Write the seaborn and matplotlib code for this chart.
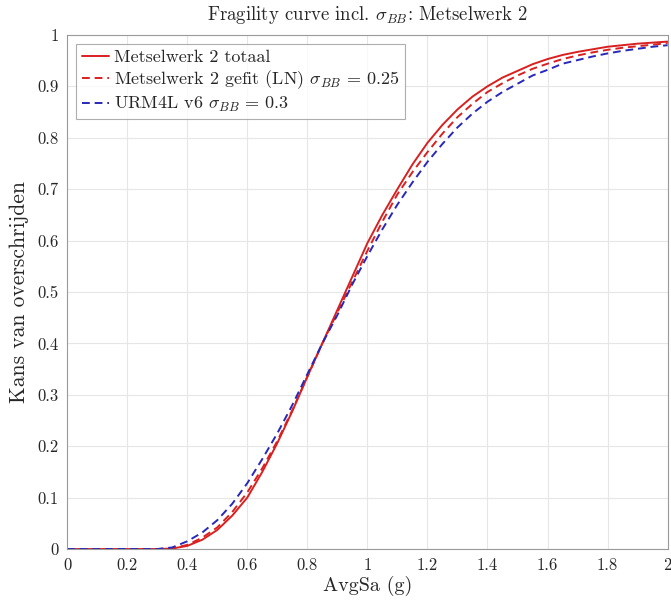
import numpy as np
import pandas as pd
import seaborn as sns
import matplotlib.pyplot as plt
from matplotlib.ticker import FuncFormatter

# waarden
avgsa = [0.0, 0.1, 0.2, 0.3, 0.35, 0.4, 0.45, 0.5, 0.55, 0.6, 0.65, 0.7, 0.75, 0.8, 0.85,
         0.9, 0.95, 1.0, 1.05, 1.1, 1.15, 1.2, 1.25, 1.3, 1.35, 1.4, 1.45, 1.5, 1.55, 1.6,
         1.65, 1.7, 1.75, 1.8, 1.85, 1.9, 1.95, 2.0]
totaal = [0.0, 0.0, 0.0, 0.0, 0.001, 0.006, 0.018, 0.037, 0.065, 0.10, 0.15, 0.206, 0.268, 0.335,
          0.40, 0.465, 0.53, 0.595, 0.65, 0.70, 0.748, 0.79, 0.825, 0.855, 0.88, 0.90, 0.917,
          0.93, 0.943, 0.953, 0.961, 0.967, 0.972, 0.977, 0.980, 0.983, 0.985, 0.987]
gefit = [0.0, 0.0, 0.0, 0.0, 0.001, 0.008, 0.022, 0.042, 0.072, 0.11, 0.157, 0.21, 0.27, 0.335,
         0.40, 0.46, 0.52, 0.58, 0.637, 0.69, 0.733, 0.772, 0.808, 0.84, 0.866, 0.889, 0.906,
         0.921, 0.934, 0.944, 0.953, 0.960, 0.966, 0.971, 0.975, 0.978, 0.981, 0.984]
urm4l = [0.0, 0.0, 0.0, 0.0, 0.003, 0.015, 0.032, 0.056, 0.088, 0.128, 0.175, 0.225, 0.28, 0.34,
         0.40, 0.455, 0.515, 0.57, 0.622, 0.67, 0.713, 0.753, 0.788, 0.82, 0.847, 0.87, 0.889,
         0.905, 0.921, 0.932, 0.944, 0.951, 0.958, 0.964, 0.969, 0.973, 0.977, 0.980]

labels = ['Metselwerk 2 totaal',
          r'Metselwerk 2 gefit (LN) $\sigma_{BB}$ = 0.25',
          r'URM4L v6 $\sigma_{BB}$ = 0.3']

df = pd.DataFrame({'AvgSa': avgsa * 3,
                   'P': totaal + gefit + urm4l,
                   'curve': [labels[0]] * len(avgsa) + [labels[1]] * len(avgsa) + [labels[2]] * len(avgsa)})

sns.set_style('whitegrid')
plt.rcParams['font.family'] = ['cmr10', 'DejaVu Serif']
plt.rcParams['mathtext.fontset'] = 'cm'
plt.rcParams['axes.formatter.use_mathtext'] = True

fig = plt.figure(figsize=(6.71, 6.02), dpi=100)
ax = fig.add_axes([0.1, 0.088, 0.895, 0.854])

sns.lineplot(data=df, x='AvgSa', y='P', hue='curve', style='curve',
             palette={labels[0]: '#d92020', labels[1]: '#d92020', labels[2]: '#2828b8'},
             dashes={labels[0]: '', labels[1]: (4, 2.5), labels[2]: (4, 2.5)},
             linewidth=1.4, ax=ax)

ax.set_xlim(0, 2)
ax.set_ylim(0, 1)
ax.set_xticks(np.arange(0, 2.01, 0.2))
ax.set_yticks(np.arange(0, 1.01, 0.1))
fmt = FuncFormatter(lambda v, p: '%g' % round(v, 2))
ax.xaxis.set_major_formatter(fmt)
ax.yaxis.set_major_formatter(fmt)
ax.tick_params(direction='in', length=4, labelsize=12, color='#555555', pad=6)
ax.grid(color='#e6e6e6', linewidth=0.8)
for s in ax.spines.values():
    s.set_color('#9a9a9a')
    s.set_linewidth(0.8)

ax.set_xlabel('AvgSa (g)', fontsize=14.5, labelpad=2)
ax.set_ylabel('Kans van overschrijden', fontsize=15.5, labelpad=6)
ax.set_title(r'Fragility curve incl. $\sigma_{BB}$: Metselwerk 2', fontsize=13.5, pad=11)

leg = ax.legend(loc='upper left', fontsize=13, frameon=True, fancybox=False,
                handlelength=1.5, handletextpad=0.3, borderaxespad=0.5,
                labelspacing=0.2, borderpad=0.3)
leg.get_frame().set_edgecolor('#9a9a9a')
leg.get_frame().set_linewidth(0.8)

fig.savefig('out.png', dpi=100)
